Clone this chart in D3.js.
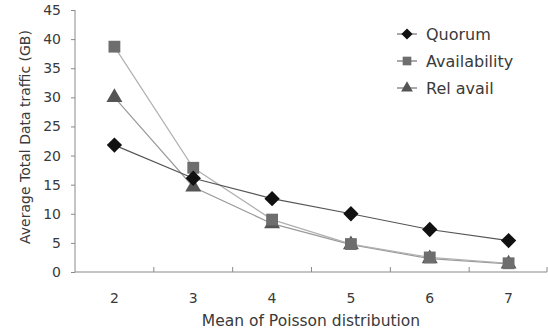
<!DOCTYPE html>
<html>
<head>
<meta charset="utf-8">
<script src="https://cdn.jsdelivr.net/npm/d3@7"></script>
<style>
  html, body { margin: 0; padding: 0; background: #fff; }
  svg text { font-family: "DejaVu Sans", "Liberation Sans", sans-serif; fill: #3a3a3a; }
</style>
</head>
<body>
<svg id="chart" width="548" height="334"></svg>
<script>
// Poisson mean values on the x axis
const categories = ["2", "3", "4", "5", "6", "7"];
// Average total data traffic (GB) per strategy
const quorum = [21.8, 16.1, 12.6, 10.0, 7.3, 5.4];
const availability = [38.7, 17.9, 9.0, 4.8, 2.5, 1.5];
const relAvail = [30.0, 14.6, 8.3, 4.7, 2.3, 1.4];
const yTicks = [0, 5, 10, 15, 20, 25, 30, 35, 40, 45];

const series = [
  { name: "Quorum", values: quorum, symbol: d3.symbolDiamond2, fill: "#111", line: "#555", size: 150, legendSize: 80 },
  { name: "Availability", values: availability, symbol: d3.symbolSquare, fill: "#6e6e6e", line: "#b0b0b0", size: 140, legendSize: 75 },
  { name: "Rel avail", values: relAvail, symbol: d3.symbolTriangle, fill: "#555", line: "#9a9a9a", size: 110, legendSize: 60 }
];

const svg = d3.select("#chart");
const plotLeft = 75, plotRight = 548, plotTop = 10, plotBottom = 272;

const x = d3.scaleBand().domain(categories).range([plotLeft, plotRight]).padding(0);
const y = d3.scaleLinear().domain([0, 45]).range([plotBottom, plotTop]);
const axisColor = "#8a8a8a";

// Y axis
const yAxis = svg.append("g")
  .attr("transform", `translate(${plotLeft},0)`)
  .call(d3.axisLeft(y).tickValues(yTicks).tickSize(4).tickPadding(10));
yAxis.select(".domain").attr("stroke", axisColor).attr("d", `M0,${plotTop}V${plotBottom}`);
yAxis.selectAll(".tick line").attr("stroke", axisColor);
yAxis.selectAll(".tick text").attr("font-size", 14).attr("fill", "#3a3a3a");

// X axis: baseline with inward ticks at category boundaries
const xg = svg.append("g");
xg.append("line")
  .attr("x1", plotLeft).attr("x2", plotRight - 1)
  .attr("y1", plotBottom).attr("y2", plotBottom)
  .attr("stroke", axisColor).attr("stroke-width", 1.2);
xg.selectAll("line.tick")
  .data(categories)
  .join("line")
  .attr("class", "tick")
  .attr("x1", d => Math.min(x(d) + x.bandwidth(), plotRight - 1))
  .attr("x2", d => Math.min(x(d) + x.bandwidth(), plotRight - 1))
  .attr("y1", plotBottom).attr("y2", plotBottom - 5)
  .attr("stroke", axisColor);
xg.selectAll("text")
  .data(categories)
  .join("text")
  .attr("x", d => x(d) + x.bandwidth() / 2)
  .attr("y", 303)
  .attr("text-anchor", "middle")
  .attr("font-size", 14)
  .text(d => d);

// Axis titles
svg.append("text")
  .attr("transform", `translate(30,${(plotTop + plotBottom) / 2 - 4}) rotate(-90)`)
  .attr("text-anchor", "middle")
  .attr("font-size", 14)
  .text("Average Total Data traffic (GB)");
svg.append("text")
  .attr("x", 311)
  .attr("y", 326)
  .attr("text-anchor", "middle")
  .attr("font-size", 15.5)
  .text("Mean of Poisson distribution");

const cx = c => x(c) + x.bandwidth() / 2;
const line = d3.line().x((d, i) => cx(categories[i])).y(d => y(d));

// Lines first, then markers on top
series.slice().reverse().forEach(s => {
  svg.append("path")
    .datum(s.values)
    .attr("d", line)
    .attr("fill", "none")
    .attr("stroke", s.line)
    .attr("stroke-width", 1.2);
});
series.slice().reverse().forEach(s => {
  svg.append("g").selectAll("path")
    .data(s.values)
    .join("path")
    .attr("transform", (d, i) => `translate(${cx(categories[i])},${y(d)})`)
    .attr("d", d3.symbol().type(s.symbol).size(s.size))
    .attr("fill", s.fill);
});

// Legend
const legend = svg.append("g").attr("transform", "translate(397,0)");
series.forEach((s, i) => {
  const gy = 34 + i * 27;
  const g = legend.append("g").attr("transform", `translate(0,${gy})`);
  g.append("line").attr("x1", 0).attr("x2", 20).attr("y1", 0).attr("y2", 0)
    .attr("stroke", "#555").attr("stroke-width", 1);
  g.append("path").attr("transform", "translate(10,0)")
    .attr("d", d3.symbol().type(s.symbol).size(s.legendSize))
    .attr("fill", s.fill);
  g.append("text").attr("x", 29).attr("y", 0).attr("dy", "0.36em")
    .attr("font-size", 16).text(s.name);
});
</script>
</body>
</html>
